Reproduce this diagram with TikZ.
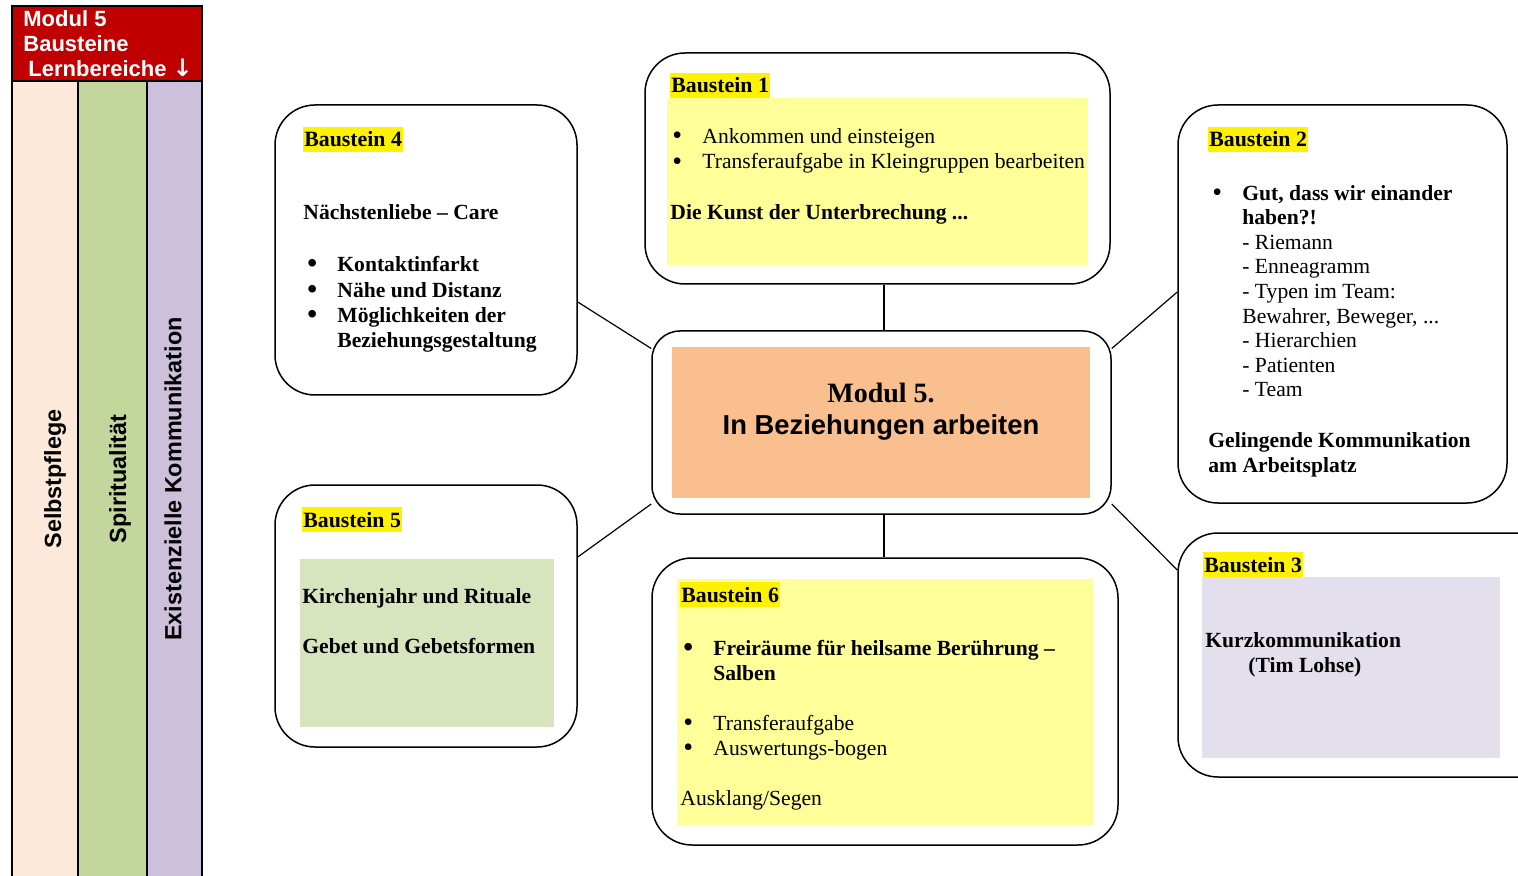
\documentclass[tikz,border=0pt]{standalone}
\usepackage{fontspec}
\setmainfont{Liberation Serif}
\setsansfont{Liberation Sans}
\newfontfamily\arrowfont{DejaVu Sans}
\usetikzlibrary{fit}
\definecolor{modred}{HTML}{C00000}
\definecolor{peach}{HTML}{FDE9D9}
\definecolor{sage}{HTML}{C3D69B}
\definecolor{lilac}{HTML}{CCC0DA}
\definecolor{midorange}{HTML}{F9BF8F}
\definecolor{paleyellow}{HTML}{FFFF99}
\definecolor{palegreen}{HTML}{D7E4BD}
\definecolor{palelilac}{HTML}{E4DFEC}
\newcommand{\bul}{\makebox[15pt][l]{\raisebox{-0.6pt}{\fontsize{14}{14}\selectfont\textbullet}}}
\newcommand{\ind}{\hspace*{15pt}}
\tikzset{x=0.5pt, y=-0.5pt,
  baustein/.style={draw, line width=0.75pt, rounded corners=20pt, inner sep=0pt},
  tag/.style={anchor=base west, fill=yellow, inner xsep=0.5pt, inner ysep=0pt, text height=10pt, text depth=2.5pt, font=\bfseries\fontsize{10.9}{12.6}\selectfont},
  txt/.style={anchor=base west, align=left, inner sep=0pt, font=\fontsize{10.8}{12.6}\selectfont},
  band/.style={draw, line width=1pt},
  vlabel/.style={rotate=90, inner sep=0pt, font=\sffamily\bfseries\fontsize{11.7}{13}\selectfont},
  link/.style={draw, line width=0.6pt}}

\begin{document}
\begin{tikzpicture}
    \useasboundingbox (0,0) rectangle (1518,876);
    % Lernbereiche links
    \draw[band, fill=peach] (12,81) rectangle (78,890);
    \draw[band, fill=sage] (78,81) rectangle (147,890);
    \draw[band, fill=lilac] (147,81) rectangle (202,890);
    \draw[band, fill=modred] (12,6) rectangle (202,81);
    \node[anchor=base west, align=left, inner sep=0pt, text=white, font=\sffamily\bfseries\fontsize{11}{12.5}\selectfont] (head) at (23,77) {Modul 5\\Bausteine\\\hspace*{2.5pt}Lernbereiche {\arrowfont\fontsize{12}{12}\selectfont↓}};
    \node[vlabel] (selbst) at (55,479) {Selbstpflege};
    \node[vlabel] (spirit) at (120,479) {Spiritualität};
    \node[vlabel] (exist) at (173,479) {Existenzielle Kommunikation};

    % Bausteine
    \node[baustein, fit={(645,53) (1110,284)}] (b1) {};
    \node[baustein, fit={(1178,105) (1507,503)}] (b2) {};
    \node[baustein, fit={(1178,533) (1560,777)}] (b3) {};
    \node[baustein, fit={(275,105) (577,395)}] (b4) {};
    \node[baustein, fit={(275,485) (577,747)}] (b5) {};
    \node[baustein, fit={(652,558) (1118,845)}] (b6) {};
    \node[baustein, rounded corners=14pt, fit={(652,331) (1111,514)}] (mid) {};

    \fill[paleyellow] (667,98) rectangle (1088,265);
    \fill[palelilac] (1202,577) rectangle (1500,758);
    \fill[palegreen] (300,559) rectangle (554,727);
    \fill[paleyellow] (677,579) rectangle (1093,825);
    \fill[midorange] (672,347) rectangle (1090,498);

    \path[link]
        ([xshift=1.25pt]mid.north) edge ([xshift=1.25pt]mid.north |- b1.south)
        ([xshift=1.25pt]mid.south) edge ([xshift=1.25pt]mid.south |- b6.north)
        ([yshift=-26pt]b4.east) edge ([yshift=37pt]mid.west)
        ([yshift=29.5pt]b5.east) edge ([yshift=-40.75pt]mid.west)
        ([yshift=6pt]b2.west) edge ([yshift=37pt]mid.east)
        ([yshift=42.5pt]b3.west) edge ([yshift=-40.75pt]mid.east);

    % Mitte
    \node[anchor=base, inner sep=0pt, font=\bfseries\fontsize{14}{16}\selectfont] (midtitle) at (881,403) {Modul 5.};
    \node[anchor=base, inner sep=0pt, font=\sffamily\bfseries\fontsize{13.7}{15}\selectfont] (midsub) at (881,435) {In Beziehungen arbeiten};

    % Baustein 1
    \node[tag] (tag1) at (670,93) {Baustein 1};
    \node[txt] (list1) at (672,169) {\bul Ankommen und einsteigen\\\bul Transferaufgabe in Kleingruppen bearbeiten};
    \node[txt, font=\bfseries\fontsize{10.8}{12.6}\selectfont] (kunst) at (670,220) {Die Kunst der Unterbrechung ...};

    % Baustein 2
    \node[tag] (tag2) at (1208,147) {Baustein 2};
    \node[txt, font=\fontsize{10.8}{12.3}\selectfont] (list2) at (1212,397) {\bul\textbf{Gut, dass wir einander}\\\ind\textbf{haben?!}\\\ind- Riemann\\\ind- Enneagramm\\\ind- Typen im Team:\\\ind Bewahrer, Beweger, ...\\\ind- Hierarchien\\\ind- Patienten\\\ind- Team};
    \node[txt, font=\bfseries\fontsize{10.8}{12.5}\selectfont] (komm) at (1208,472) {Gelingende Kommunikation\\am Arbeitsplatz};

    % Baustein 3
    \node[tag] (tag3) at (1203,572) {Baustein 3};
    \node[txt, font=\bfseries\fontsize{10.8}{12.5}\selectfont] (kurz) at (1205,672) {Kurzkommunikation\\\hspace*{21.5pt}(Tim Lohse)};

    % Baustein 4
    \node[tag] (tag4) at (303,147) {Baustein 4};
    \node[txt, font=\bfseries\fontsize{10.8}{12.6}\selectfont] (care) at (303,220) {Nächstenliebe – Care};
    \node[txt, font=\bfseries\fontsize{10.8}{12.7}\selectfont] (list4) at (307,348) {\bul Kontaktinfarkt\\\bul Nähe und Distanz\\\bul Möglichkeiten der\\\ind Beziehungsgestaltung};

    % Baustein 5
    \node[tag] (tag5) at (302,527) {Baustein 5};
    \node[txt, font=\bfseries\fontsize{10.8}{12.5}\selectfont] (kirche) at (302,653) {Kirchenjahr und Rituale\\[12.5pt]Gebet und Gebetsformen};

    % Baustein 6
    \node[tag] (tag6) at (680,602) {Baustein 6};
    \node[txt, font=\bfseries\fontsize{10.8}{12.5}\selectfont] (frei) at (683,680) {\bul Freiräume für heilsame Berührung –\\\ind Salben};
    \node[txt, font=\fontsize{10.8}{12.5}\selectfont] (list6) at (683,755) {\bul Transferaufgabe\\\bul Auswertungs-bogen};
    \node[txt] (segen) at (680,805) {Ausklang/Segen};
\end{tikzpicture}
\end{document}
